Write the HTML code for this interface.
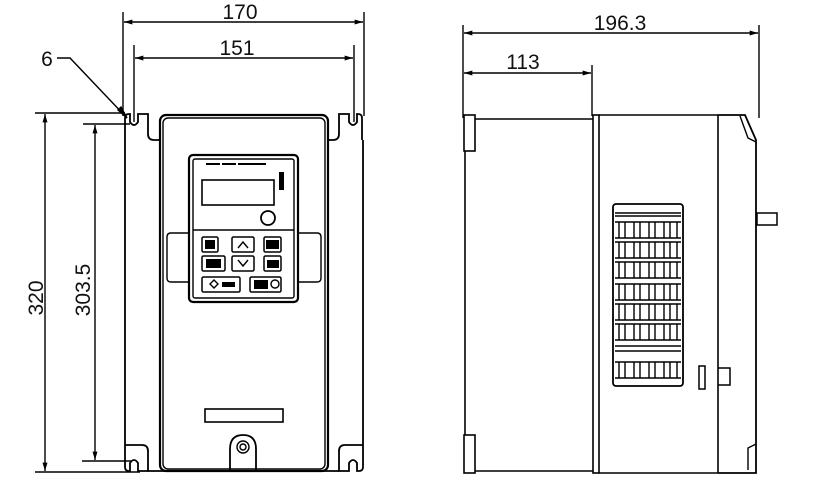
<!DOCTYPE html>
<html><head><meta charset="utf-8"><style>
html,body{margin:0;padding:0;background:#fff;}
svg{display:block}
text{font-family:"Liberation Sans",sans-serif;fill:#111}
</style></head><body>
<svg width="818" height="497" viewBox="0 0 818 497" xmlns="http://www.w3.org/2000/svg">
<defs>
<marker id="a" viewBox="0 0 10 6" refX="10" refY="3" markerWidth="14" markerHeight="5" orient="auto-start-reverse" markerUnits="userSpaceOnUse"><path d="M0,0 L10,3 L0,6 z" fill="#000"/></marker>
</defs>
<g stroke="#000" fill="none" stroke-width="1.4">
<line x1="123" y1="12" x2="123" y2="116"/>
<line x1="364" y1="12" x2="364" y2="116"/>
<line x1="124" y1="22" x2="363" y2="22" marker-start="url(#a)" marker-end="url(#a)"/>
<line x1="134" y1="45" x2="134" y2="122"/>
<line x1="354" y1="45" x2="354" y2="122"/>
<line x1="135" y1="58" x2="353" y2="58" marker-start="url(#a)" marker-end="url(#a)"/>
<polyline points="57,58 70,58 127,118" />
<path d="M118,110 L127,118 L121,107 z" fill="#000"/>
<line x1="35" y1="113" x2="125" y2="113"/>
<line x1="35" y1="472" x2="140" y2="472"/>
<line x1="45" y1="114" x2="45" y2="471" marker-start="url(#a)" marker-end="url(#a)"/>
<line x1="83" y1="124" x2="130" y2="124"/>
<line x1="82" y1="461" x2="132" y2="461"/>
<line x1="95" y1="125" x2="95" y2="460" marker-start="url(#a)" marker-end="url(#a)"/>
<path d="M125,140 L125,118 Q125,114 129,114 L130,114 L130,122 Q134,128 138,122 L138,114 L148,114 L148,134 Q148,140 154,140 L160,140" stroke-width="1.8"/>
<path d="M362,140 L362,118 Q362,114 358,114 L357,114 L357,122 Q353,128 349,122 L349,114 L339,114 L339,134 Q339,140 333,140 L327,140" stroke-width="1.8"/>
<line x1="125" y1="140" x2="125" y2="444" stroke-width="1.8"/>
<line x1="363" y1="140" x2="363" y2="444" stroke-width="1.8"/>
<path d="M125,444 L125,467 Q125,471 129,471 L130,471 L130,463 Q134,457 138,463 L138,471 L148,471 L148,451 Q148,445 142,445 L125,445" stroke-width="1.8"/>
<path d="M363,444 L363,467 Q363,471 359,471 L357,471 L357,463 Q353,457 349,463 L349,471 L339,471 L339,451 Q339,445 345,445 L363,445" stroke-width="1.8"/>
<line x1="148" y1="471" x2="339" y2="471" stroke-width="1.8"/>
<rect x="160" y="115" width="168" height="356" rx="6" stroke-width="2.2"/>
<rect x="163" y="118" width="162" height="351" rx="5"/>
<path d="M189,233 L171,233 Q167,233 167,237 L167,278 Q167,282 171,282 L189,282"/>
<path d="M298,233 L317,233 Q321,233 321,237 L321,278 Q321,282 317,282 L298,282"/>
<rect x="189" y="155" width="109" height="147" rx="4" stroke-width="2.2"/>
<rect x="193" y="159" width="101" height="139" rx="2"/>
<line x1="193" y1="230" x2="294" y2="230"/>
<rect x="202" y="180" width="72" height="25" stroke-width="1.6"/>
<circle cx="268" cy="218" r="7" stroke-width="1.8"/>
<rect x="202" y="237" width="16" height="15" rx="1.5" stroke-width="1.5"/>
<rect x="232" y="237" width="22" height="15" rx="1.5" stroke-width="1.5"/>
<rect x="264" y="237" width="17" height="15" rx="1.5" stroke-width="1.5"/>
<rect x="202" y="256" width="23" height="15" rx="1.5" stroke-width="1.5"/>
<rect x="232" y="256" width="22" height="15" rx="1.5" stroke-width="1.5"/>
<rect x="264" y="256" width="17" height="15" rx="1.5" stroke-width="1.5"/>
<rect x="202" y="277" width="38" height="15" rx="1.5" stroke-width="1.5"/>
<rect x="250" y="277" width="31" height="15" rx="1.5" stroke-width="1.5"/>
<polyline points="238,248 243,242 248,248"/>
<polyline points="238,260 243,266 248,260"/>
<path d="M210,284 L214,280 L218,284 L214,288 z"/>
<circle cx="275" cy="284" r="4"/>
<rect x="205" y="409" width="78" height="13" stroke-width="1.6"/>
<path d="M230,471 L230,449 Q230,435 243,435 Q256,435 256,449 L256,471" stroke-width="1.8"/>
<circle cx="243" cy="447" r="6"/><circle cx="243" cy="447" r="3"/>
<line x1="463" y1="25" x2="463" y2="118"/>
<line x1="759" y1="25" x2="759" y2="118"/>
<line x1="464" y1="33" x2="758" y2="33" marker-start="url(#a)" marker-end="url(#a)"/>
<line x1="592" y1="65" x2="592" y2="116"/>
<line x1="464" y1="73" x2="591" y2="73" marker-start="url(#a)" marker-end="url(#a)"/>
<rect x="464" y="115" width="11" height="36" stroke-width="1.6"/>
<rect x="464" y="435" width="11" height="38" stroke-width="1.6"/>
<line x1="465" y1="151" x2="465" y2="435" stroke-width="1.6"/>
<line x1="475" y1="119" x2="593" y2="119" stroke-width="1.6"/>
<line x1="475" y1="471" x2="593" y2="471" stroke-width="1.6"/>
<rect x="593" y="115" width="6" height="358" stroke-width="1.6"/>
<line x1="599" y1="115" x2="718" y2="115" stroke-width="1.6"/>
<line x1="599" y1="473" x2="718" y2="473" stroke-width="1.6"/>
<line x1="718" y1="115" x2="718" y2="473" stroke-width="1.6"/>
<path d="M718,115 L745,115 L756,140 L756,473 L718,473" stroke-width="1.8"/>
<path d="M740,116 L748,138 L756,142" />
<path d="M748,470 L748,448 L756,444"/>
<rect x="757" y="213" width="20" height="12" stroke-width="1.5"/>
<rect x="699" y="366" width="6" height="23" stroke-width="1.5"/>
<path d="M718,368 L730,368 L730,385 L718,385" stroke-width="1.5"/>
<rect x="613" y="204" width="70" height="182" rx="3" stroke-width="1.8"/>
</g>
<g stroke="#000" stroke-width="1.4">
<line x1="615" y1="213" x2="681" y2="213"/>
<line x1="615" y1="216" x2="681" y2="216"/>
<g id="vr">
<line x1="615" y1="222" x2="681" y2="222"/>
<line x1="615" y1="238" x2="681" y2="238"/>
<line x1="619" y1="222" x2="619" y2="238"/><line x1="625" y1="222" x2="625" y2="238"/>
<line x1="634" y1="222" x2="634" y2="238"/><line x1="640" y1="222" x2="640" y2="238"/>
<line x1="649" y1="222" x2="649" y2="238"/><line x1="655" y1="222" x2="655" y2="238"/>
<line x1="664" y1="222" x2="664" y2="238"/><line x1="670" y1="222" x2="670" y2="238"/>
<line x1="677" y1="222" x2="677" y2="238"/>
</g>
<use href="#vr" y="20"/><use href="#vr" y="40"/><use href="#vr" y="62"/><use href="#vr" y="82"/><use href="#vr" y="102"/><use href="#vr" y="140"/>
<line x1="615" y1="346" x2="681" y2="346"/>
<line x1="615" y1="351" x2="681" y2="351"/>
</g>
<g fill="#000">
<rect x="206" y="163" width="14" height="2"/><rect x="222" y="163" width="14" height="2"/><rect x="238" y="163" width="28" height="2"/>
<rect x="205" y="240" width="10" height="9"/><rect x="266" y="240" width="13" height="9"/>
<rect x="206" y="259" width="15" height="9"/><rect x="267" y="260" width="12" height="8"/>
<rect x="222" y="282" width="13" height="5"/><rect x="254" y="280" width="14" height="9"/>
<rect x="279" y="172" width="5" height="18"/>
</g>
<text x="240" y="19" font-size="21" text-anchor="middle">170</text>
<text x="237" y="55" font-size="21" text-anchor="middle">151</text>
<text x="47" y="66" font-size="21" text-anchor="middle">6</text>
<text x="620" y="30" font-size="21" text-anchor="middle">196.3</text>
<text x="523" y="69" font-size="21" text-anchor="middle">113</text>
<text transform="translate(43,298) rotate(-90)" font-size="21" text-anchor="middle">320</text>
<text transform="translate(90,290) rotate(-90)" font-size="21" text-anchor="middle">303.5</text>
</svg>
</body></html>
